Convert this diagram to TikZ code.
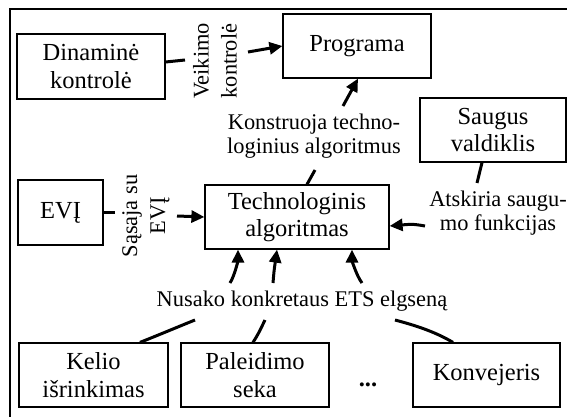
\documentclass[tikz,border=0pt]{standalone}
\usepackage{fontspec}
\setmainfont{Liberation Serif}
\usetikzlibrary{arrows.meta,calc}
\tikzset{
  box/.style={draw, line width=1.2pt, align=center, inner sep=0pt,
    font=\fontsize{24.5}{27.5}\selectfont},
  lbl/.style={align=center, inner sep=0pt, font=\fontsize{22.4}{24.5}\selectfont},
  vlbl/.style={align=center, inner sep=0pt, rotate=90, font=\fontsize{22.4}{28}\selectfont},
  link/.style={line width=3pt},
  arr/.style={line width=3pt, -{Triangle[length=13pt,width=12pt]}},
  frame/.style={line width=2pt}
}
\begin{document}
\begin{tikzpicture}[x=1pt,y=-1pt]
\useasboundingbox (0,0) rectangle (567,417);
\fill[white] (0,0) rectangle (567,417);
\draw[frame] (10,417) -- (10,9) -- (567,9);

% boxes
\node[box, minimum width=148, minimum height=65] (din) at (91,66.5) {Dinaminė\\kontrolė};
\node[box, minimum width=148, minimum height=64] (prog) at (357,46) {Programa};
\node[box, minimum width=146, minimum height=64] (saug) at (493,130) {Saugus\\valdiklis};
\node[box, minimum width=85, minimum height=65] (evi) at (60.5,212.5) {EVĮ};
\node[box, minimum width=184, minimum height=64] (tech) at (297,217) {Technologinis\\algoritmas};
\node[box, minimum width=149, minimum height=64] (kel) at (93.5,375) {Kelio\\išrinkimas};
\node[box, minimum width=148, minimum height=64] (pal) at (255,375) {Paleidimo\\seka};
\node[box, minimum width=147, minimum height=64] (konv) at (486.5,375) {Konvejeris};
\node[anchor=base, inner sep=0pt, font=\fontsize{24.5}{27.5}\selectfont\bfseries] (dots) at (368,386) {...};

% labels
\node[vlbl] (veik) at (215,61) {Veikimo\\kontrolė};
\node[vlbl] (sas) at (146,216) {Sąsaja su\\EVĮ};
\node[lbl] (kons) at (314,136) {Konstruoja techno-\\loginius algoritmus};
\node[lbl] (atsk) at (498,213) {Atskiria saugu-\\mo funkcijas};
\node[lbl] (nus) at (302,301) {Nusako konkretaus ETS elgseną};

% free ends
\coordinate (v1) at (185,60);
\coordinate (v2) at (248,52);
\coordinate (k1) at (315,170);
\coordinate (k2) at (343,106);
\coordinate (s1) at (477,183);
\coordinate (s2) at (425,226);
\coordinate (e1) at (115,212.5);
\coordinate (e2) at (177,216);
\coordinate (n1) at (195,320);
\coordinate (n2) at (230,283);
\coordinate (n3) at (265,320);
\coordinate (n4) at (273,283);
\coordinate (n5) at (395,320);
\coordinate (n6) at (362,283);

% connectors
\draw[link] ([yshift=4.5pt]din.east) -- (v1);
\draw[arr] (v2) -- (prog.west);
\draw[link] ([xshift=10pt]tech.north) -- (k1);
\draw[arr] (k2) -- ([xshift=1pt]prog.south);
\draw[link] ([xshift=-11pt]saug.south) -- (s1);
\draw[arr] (s2) .. controls +(-12,-2) .. ([yshift=-9pt]tech.east);
\draw[link] (evi.east) -- (e1);
\draw[arr] (e2) -- (tech.west);
\draw[link] ([xshift=46.5pt]kel.north) .. controls +(25,-10) and +(-15,6) .. (n1);
\draw[arr] (n2) .. controls +(5,-8) and +(0,10) .. ([xshift=-59pt]tech.south);
\draw[link] ([xshift=-2pt]pal.north) .. controls +(5,-8) .. (n3);
\draw[arr] (n4) .. controls +(1,-12) .. ([xshift=-20pt]tech.south);
\draw[link] ([xshift=-33.5pt]konv.north) .. controls +(-20,-12) and +(15,4) .. (n5);
\draw[arr] (n6) .. controls +(-6,-8) and +(0,10) .. ([xshift=55pt]tech.south);
\end{tikzpicture}
\end{document}
